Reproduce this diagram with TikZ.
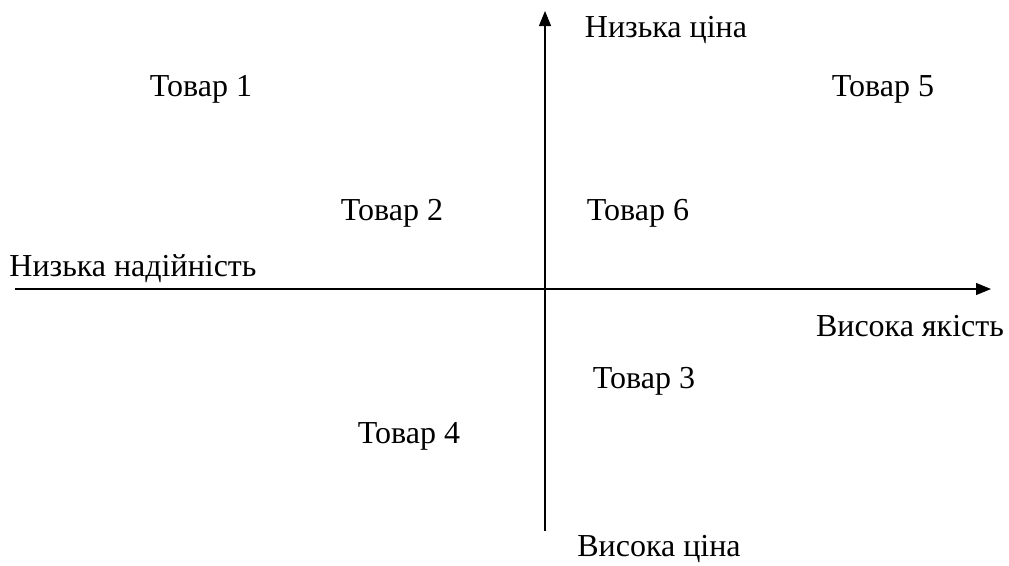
\documentclass[tikz,border=0pt]{standalone}
\usepackage{fontspec}
\setmainfont{Liberation Serif}
\usetikzlibrary{arrows.meta}
\begin{document}
\begin{tikzpicture}[x=1pt,y=-1pt,
  axis/.style={line width=1.2pt,-{Triangle[length=15pt,width=12pt]}},
  lbl/.style={font=\fontsize{32}{36}\selectfont,inner sep=0pt,anchor=center}]
\useasboundingbox (0,0) rectangle (1009,565);
% axes
\coordinate (ys) at (545,531);
\coordinate (ye) at (545,11);
\coordinate (xs) at (15,289);
\coordinate (xe) at (991,289);
\draw[axis] (ys) -- (ye);
\draw[axis] (xs) -- (xe);
% axis labels
\node[lbl] (top) at (666,30) {Низька ціна};
\node[lbl] (bottom) at (659,549) {Висока ціна};
\node[lbl] (left) at (133,269) {Низька надійність};
\node[lbl] (right) at (910,326) {Висока якість};
% products
\node[lbl] (t1) at (201,89) {Товар 1};
\node[lbl] (t5) at (883,89) {Товар 5};
\node[lbl] (t2) at (392,213) {Товар 2};
\node[lbl] (t6) at (638,213) {Товар 6};
\node[lbl] (t3) at (644,381) {Товар 3};
\node[lbl] (t4) at (409,436) {Товар 4};
\end{tikzpicture}
\end{document}
